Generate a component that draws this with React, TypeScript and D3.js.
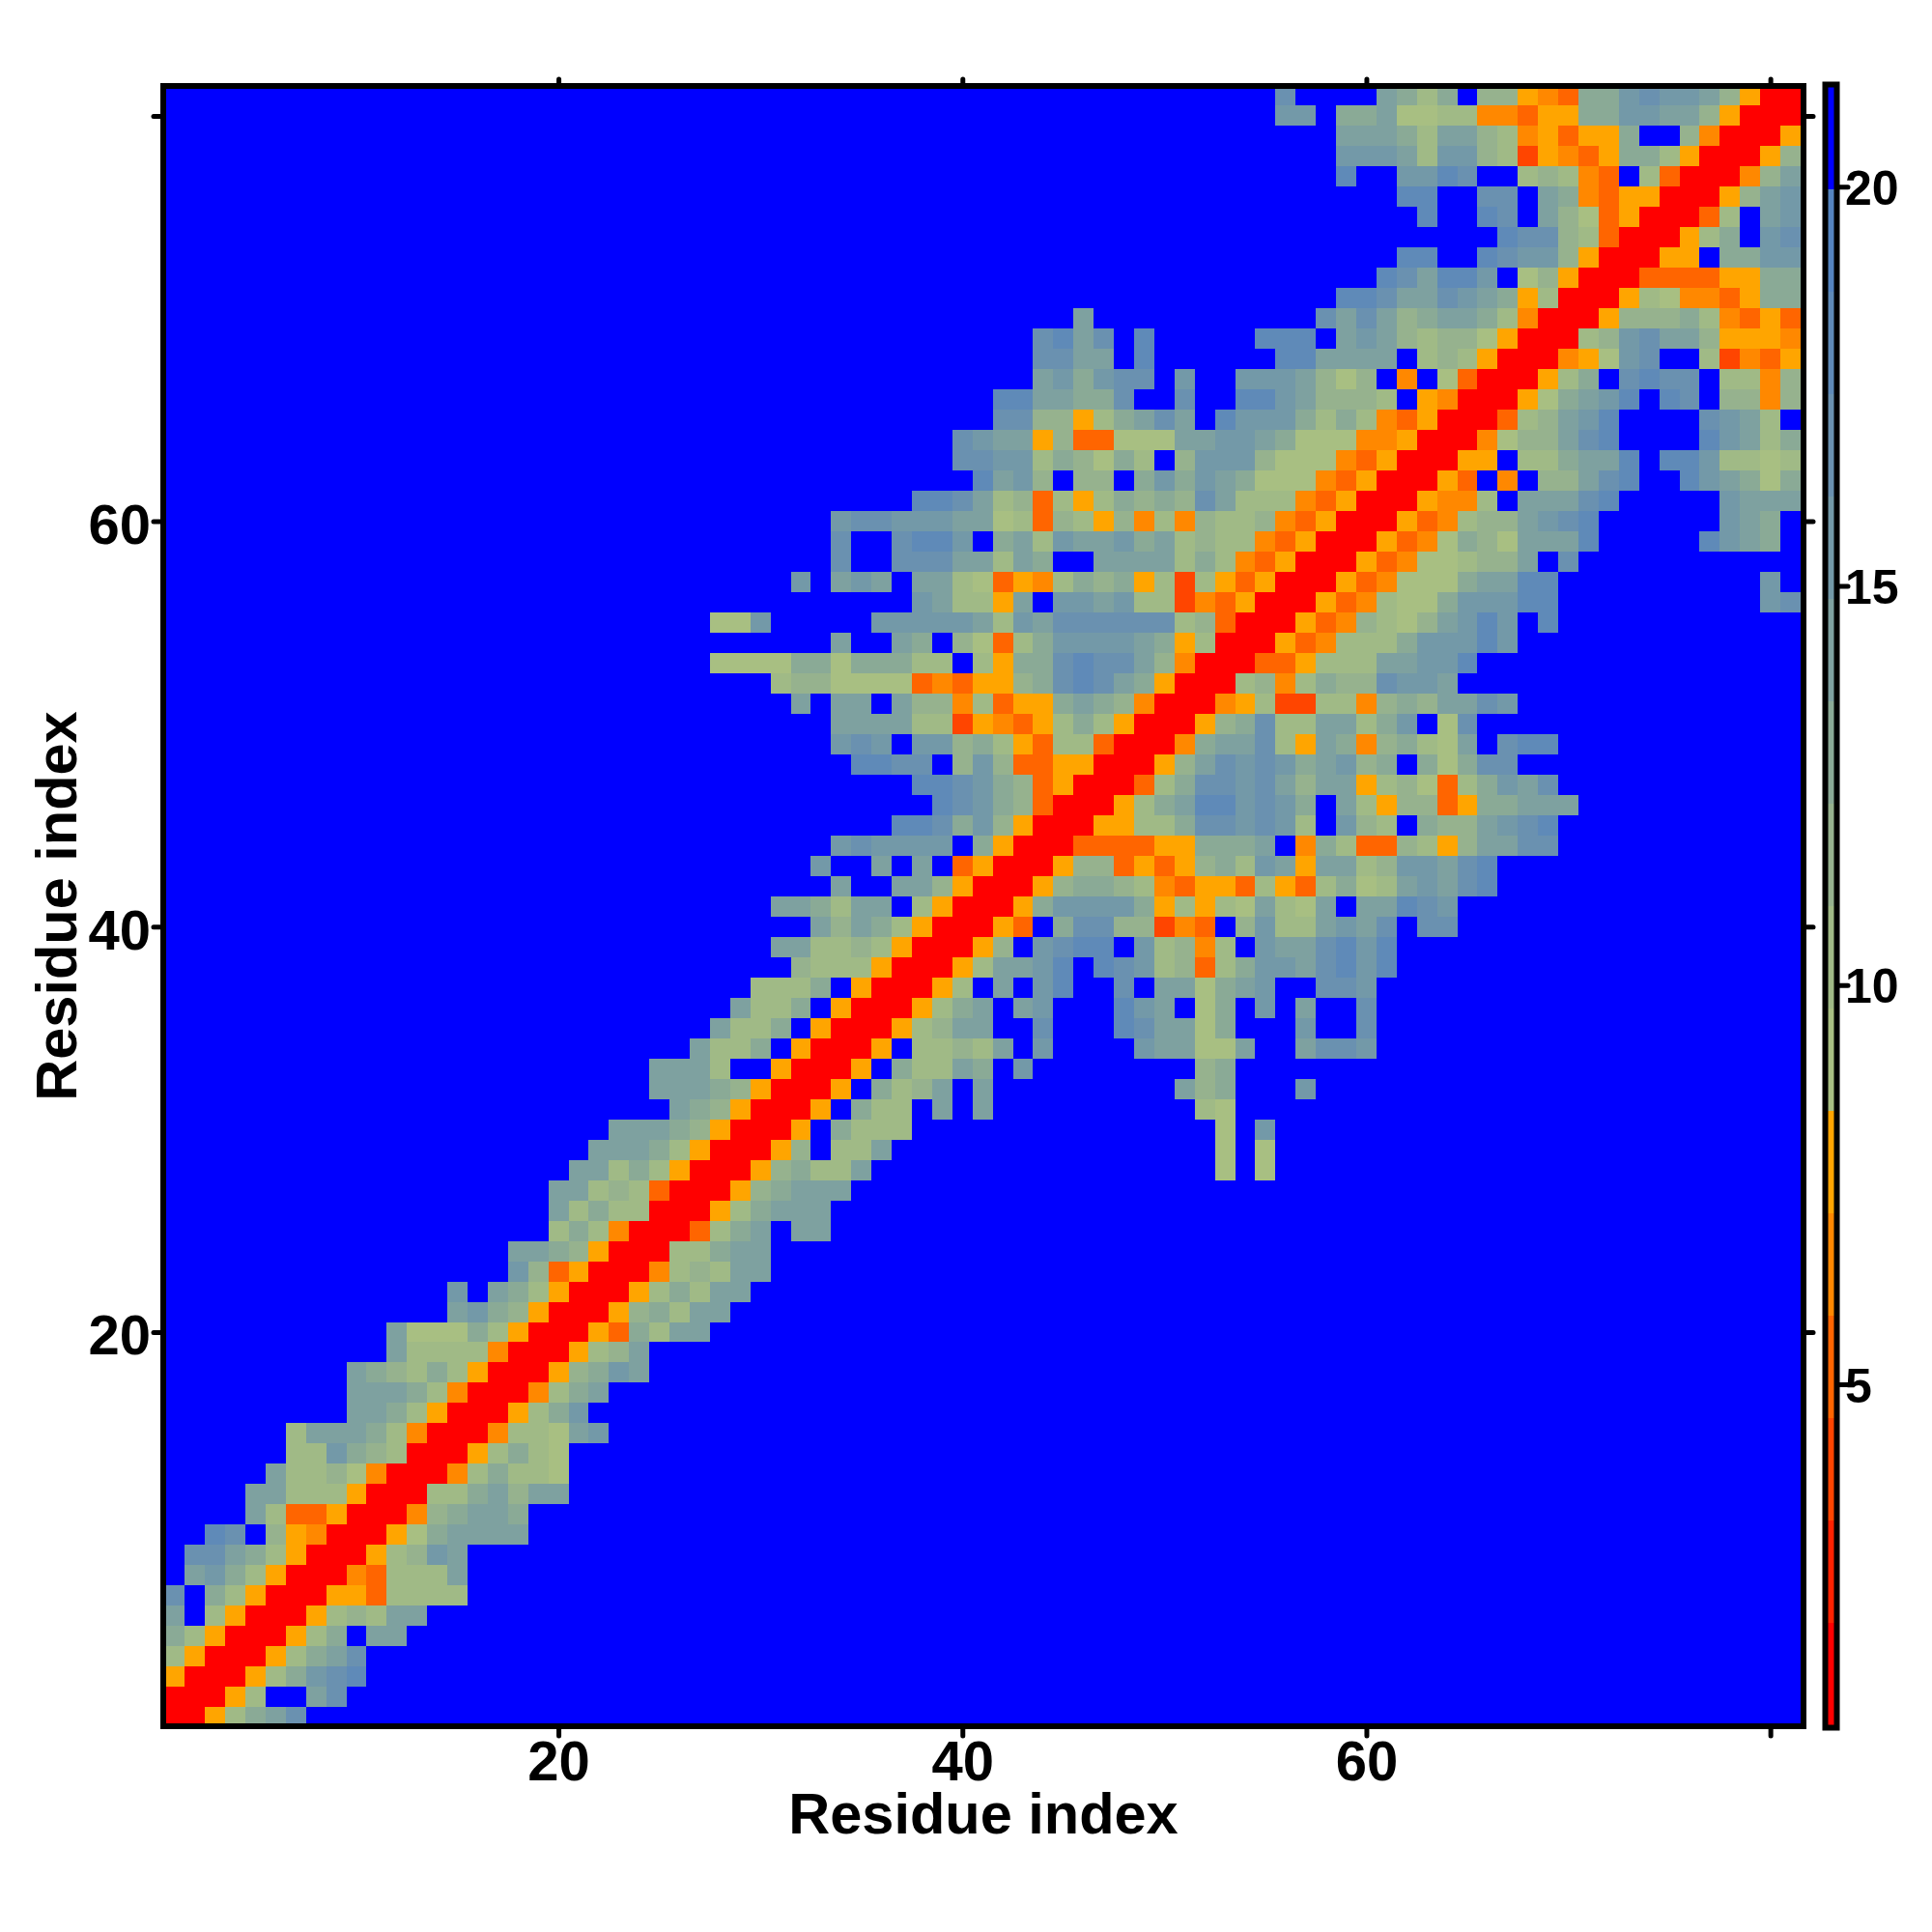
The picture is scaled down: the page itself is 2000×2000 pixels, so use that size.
import * as d3 from 'd3';
import { useRef, useEffect } from 'react';

// distance bins, one colour each, from the colour bar
const warmColors = ['#ff0000', '#ff2200', '#ff4500', '#ff6500', '#ff8800', '#ffa500'];
const coolColors = ['#a8bf82', '#a0ba86', '#96b28e', '#8aaa96', '#7ea1a0', '#7399a8', '#6a91b0', '#5f8ab8', '#5584c0'];
const farColor = '#0000ff';
const binCodes = '012345abcdefghi.';
const distanceRange = [0.73, 21.25];

const residueTicks = [20, 40, 60, 80];
const residueLabels = [20, 40, 60];
const distanceTicks = [5, 10, 15, 20];

// symmetric map: row r lists the bins of columns up to r, right aligned, blanks left out
const contactRows = [
  '0', '00', '500', 'b500', 'db500', 'e.b500', 'g.db500', 'efdb500', 'ggedb500', 'hg.c5400',
  'eb33500', 'eebbb500', 'ebbca400', 'bbfdcb00', 'beeedb400', 'eedb500', 'eeedb400', 'edcbdb500', 'ebbbb400', 'eaaadb500',
  'efdc500', 'f.edb500', 'fc3500', 'eedc500', 'bdb400', 'ebdbb00', 'eebcb300', 'eebdb500', 'eeedb500', 'eeedc500',
  'edc500', 'eeedc500', 'eeeb..500', 'ebbd.500', 'ebbd.500', 'ebbd.500', 'bbbd.500', 'cbbb500', 'eebbcb500', 'ecedb500',
  'eedbee.b500', 'e..eec500', 'f..e.e.3500', 'fgffff.d500', 'hhgdfc500', 'hgfdc300', 'hhgfdc3500', 'hhgg.cfc335500',
  'fgf.ffcdb53bb300', 'eeeebb25435bdb500',
  'e.ee.ecc4b355dedc400', 'bccaaaa34355cdghged500', 'aaaaddadddbb.b5ddghggec400', 'e..ed.ca3bdffffed5b00',
  'aaf.....fffffebfeggggggbc300', 'febb5e.ffefbb243500', 'f.efe.eeba354bdcd5b2b53500', 'g..gggeebed..eeeebdb43500',
  'g..ghhf.debfeefdebcbb43500', 'fggfffeeab3cb5c4b4cbbc43500',
  'hhgebc3b5bdcdcgebbb43500', 'hefc.cc.dfdfedaaa43500', 'ggffbdcadb.cfffcaaa43500', 'gfee5c33aaaeeffedaaa44500',
  'ggcc5bdege.hfffdbdb43500', 'hheeddg..g..hhfecccb.5400', 'efdfgg.f..fffecac.4.a300', 'ggee.h......hheeee.bcb500',
  'gheg.h.....hhh.efecbcca500', 'e...........gegecdeedb400',
  'hhgeegfed5b00', 'hgehhf.ac500', 'hh..hgffc500', 'hggcb300', 'h..hg.eca3500',
  'hh..gg.ed435500', 'h..ffhg..bcb43.b300', 'fffebffcb25435ddb500', 'eeedbeecb45355d..c400', 'ff.ddeaabb44355ddffeec500',
  'g....edbd.cc543ddfgffec500',
];

const App = () => {
  const svgRef = useRef<SVGSVGElement | null>(null);

  useEffect(() => {
    const svg = d3.select(svgRef.current);
    svg.selectAll('*').remove();

    const left = 172, right = 1864, top = 92, bottom = 1784;
    const xScale = d3.scaleLinear().domain([0.58, 81.5]).range([left, right]);
    const yScale = d3.scaleLinear().domain([0.7, 81.33]).range([bottom, top]);

    const palette = [...warmColors, ...coolColors, farColor];
    const colorScale = d3.scaleQuantize<string>().domain(distanceRange).range(palette);
    const binWidth = (distanceRange[1] - distanceRange[0]) / palette.length;

    const cells: { i: number; j: number; value: number }[] = [];
    contactRows.forEach((row, r) => {
      row.padStart(r + 1, '.').split('').forEach((code, c) => {
        const value = distanceRange[0] + (binCodes.indexOf(code) + 0.5) * binWidth;
        cells.push({ i: c + 1, j: r + 1, value });
        if (c !== r) cells.push({ i: r + 1, j: c + 1, value });
      });
    });

    svg.append('clipPath').attr('id', 'plot-clip').append('rect')
      .attr('x', left).attr('y', top).attr('width', right - left).attr('height', bottom - top);

    svg.append('g')
      .attr('clip-path', 'url(#plot-clip)')
      .attr('shape-rendering', 'crispEdges')
      .selectAll('rect')
      .data(cells)
      .enter()
      .append('rect')
      .attr('x', d => xScale(d.i - 0.5))
      .attr('y', d => yScale(d.j + 0.5))
      .attr('width', d => xScale(d.i + 0.5) - xScale(d.i - 0.5))
      .attr('height', d => yScale(d.j - 0.5) - yScale(d.j + 0.5))
      .attr('fill', d => colorScale(d.value));

    const styleAxis = (g: any, fontSize: number) => {
      g.select('.domain').remove();
      g.selectAll('.tick line')
        .attr('stroke', '#000').attr('stroke-width', 5).attr('stroke-linecap', 'round');
      g.selectAll('.tick text')
        .attr('fill', '#000')
        .attr('font-family', '"Liberation Sans", Arial, sans-serif')
        .attr('font-weight', 'bold')
        .attr('font-size', fontSize);
    };
    const residueFormat = (d: any) => (residueLabels.includes(+d) ? String(d) : '');

    const xAxisBottom = svg.append('g').attr('transform', `translate(0,${bottom + 3})`)
      .call(d3.axisBottom(xScale).tickValues(residueTicks).tickSize(10).tickFormat(residueFormat) as any);
    styleAxis(xAxisBottom, 58);
    xAxisBottom.selectAll('.tick text').attr('y', 56).attr('dy', 0);

    const yAxisLeft = svg.append('g').attr('transform', `translate(${left - 3},0)`)
      .call(d3.axisLeft(yScale).tickValues(residueTicks).tickSize(10).tickFormat(residueFormat) as any);
    styleAxis(yAxisLeft, 58);
    yAxisLeft.selectAll('.tick text').attr('x', -13).attr('dy', 23);

    const xAxisTop = svg.append('g').attr('transform', `translate(0,${top - 3})`)
      .call(d3.axisTop(xScale).tickValues(residueTicks).tickSize(7).tickFormat(() => '') as any);
    styleAxis(xAxisTop, 10);

    const yAxisRight = svg.append('g').attr('transform', `translate(${right + 3},0)`)
      .call(d3.axisRight(yScale).tickValues(residueTicks).tickSize(10).tickFormat(() => '') as any);
    styleAxis(yAxisRight, 10);

    svg.append('rect')
      .attr('x', left - 3).attr('y', top - 3)
      .attr('width', right - left + 6).attr('height', bottom - top + 6)
      .attr('fill', 'none').attr('stroke', '#000').attr('stroke-width', 6);

    // colour bar
    const barX = 1892, barW = 7;
    const barScale = d3.scaleLinear().domain(distanceRange).range([bottom + 2, top - 2]);
    svg.append('g')
      .attr('shape-rendering', 'crispEdges')
      .selectAll('rect')
      .data(palette)
      .enter()
      .append('rect')
      .attr('x', barX)
      .attr('width', barW)
      .attr('y', (_, idx) => barScale(distanceRange[0] + (idx + 1) * binWidth))
      .attr('height', barScale(distanceRange[0]) - barScale(distanceRange[0] + binWidth))
      .attr('fill', d => d);

    const barAxis = svg.append('g').attr('transform', `translate(${barX + barW + 3},0)`)
      .call(d3.axisRight(barScale).tickValues(distanceTicks).tickSize(11).tickPadding(0) as any);
    styleAxis(barAxis, 50);
    barAxis.selectAll('.tick text').attr('x', 8).attr('dy', 18);

    svg.append('rect')
      .attr('x', barX - 2.5).attr('y', top - 4.5)
      .attr('width', barW + 5).attr('height', bottom - top + 9)
      .attr('fill', 'none').attr('stroke', '#000').attr('stroke-width', 6);

    const addLabel = (x: number, y: number, rotate: number) => {
      svg.append('text')
        .attr('transform', `translate(${x},${y}) rotate(${rotate})`)
        .attr('text-anchor', 'middle')
        .attr('font-family', '"Liberation Sans", Arial, sans-serif')
        .attr('font-weight', 'bold')
        .attr('font-size', 59.5)
        .attr('fill', '#000')
        .text('Residue index');
    };
    addLabel(1018, 1898, 0);
    addLabel(79, 938, -90);
  }, []);

  return (
    <div>
      <svg ref={svgRef} width={2000} height={2000} style={{ position: 'absolute', left: 0, top: 0, background: '#fff' }} />
    </div>
  );
};

export default App;
